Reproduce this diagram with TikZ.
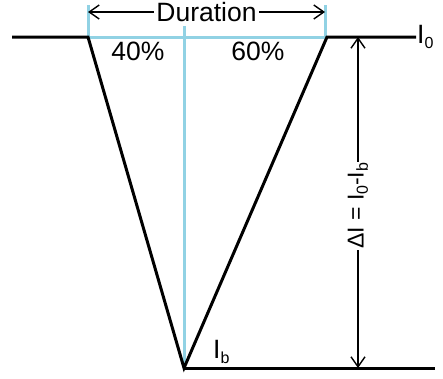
\documentclass[tikz,border=0pt]{standalone}
\usepackage{fontspec}
\setmainfont{Liberation Sans}
\usetikzlibrary{arrows.meta}
\definecolor{durblue}{RGB}{145,210,228}
\newcommand{\lowsub}[1]{\raisebox{-0.35ex}{\fontsize{16}{16}\selectfont #1}}
\begin{document}
\begin{tikzpicture}[x=1pt,y=-1pt,
  level/.style={line width=3pt},
  guide/.style={durblue,line width=3pt},
  dim/.style={line width=1.4pt,{Straight Barb[length=10pt,width=14pt,line width=1.4pt]}-{Straight Barb[length=10pt,width=14pt,line width=1.4pt]}},
  lbl/.style={font=\fontsize{26.5}{28}\selectfont,inner sep=1pt}]
\useasboundingbox (0,0) rectangle (443,378);
% key points
\coordinate (l0) at (12,37);
\coordinate (tl) at (88,37);
\coordinate (tr) at (327,37);
\coordinate (r0) at (416,37);
\coordinate (bot) at (184,368);
\coordinate (b1) at (435,368);
\coordinate (ctop) at (184,26);
\coordinate (ktl) at (88,5);
\coordinate (ktr) at (325,5);
\coordinate (kbr) at (325,37);
\coordinate (dl) at (88,12);
\coordinate (dr) at (325,12);
\coordinate (at) at (358,37);
\coordinate (ab) at (358,368);
% blue guides
\draw[guide] (tl) -- (kbr);
\draw[guide] (ktl) -- (tl);
\draw[guide] (ktr) -- (kbr);
\draw[guide] (ctop) -- (bot);
% current profile
\draw[level] (l0) -- (tl) -- (bot) -- (tr) -- (r0);
\draw[level] (bot) -- (b1);
% dimensions
\draw[dim] (dl) -- (dr) node[lbl,midway,fill=white,inner sep=2pt] (dur) {Duration};
\draw[dim] (at) -- (ab) node[lbl,pos=0.51,fill=white,rotate=90,inner sep=1pt,font=\fontsize{23}{25}\selectfont] (dI) {ΔI = I\lowsub{0}-I\lowsub{b}};
% labels
\node[lbl] (p40) at (138,51) {40\%};
\node[lbl] (p60) at (258,51) {60\%};
\node[lbl,anchor=west] (I0) at (r0) {I\lowsub{0}};
\node[lbl,anchor=west] (Ib) at (212,352) {I\lowsub{b}};
\end{tikzpicture}
\end{document}
